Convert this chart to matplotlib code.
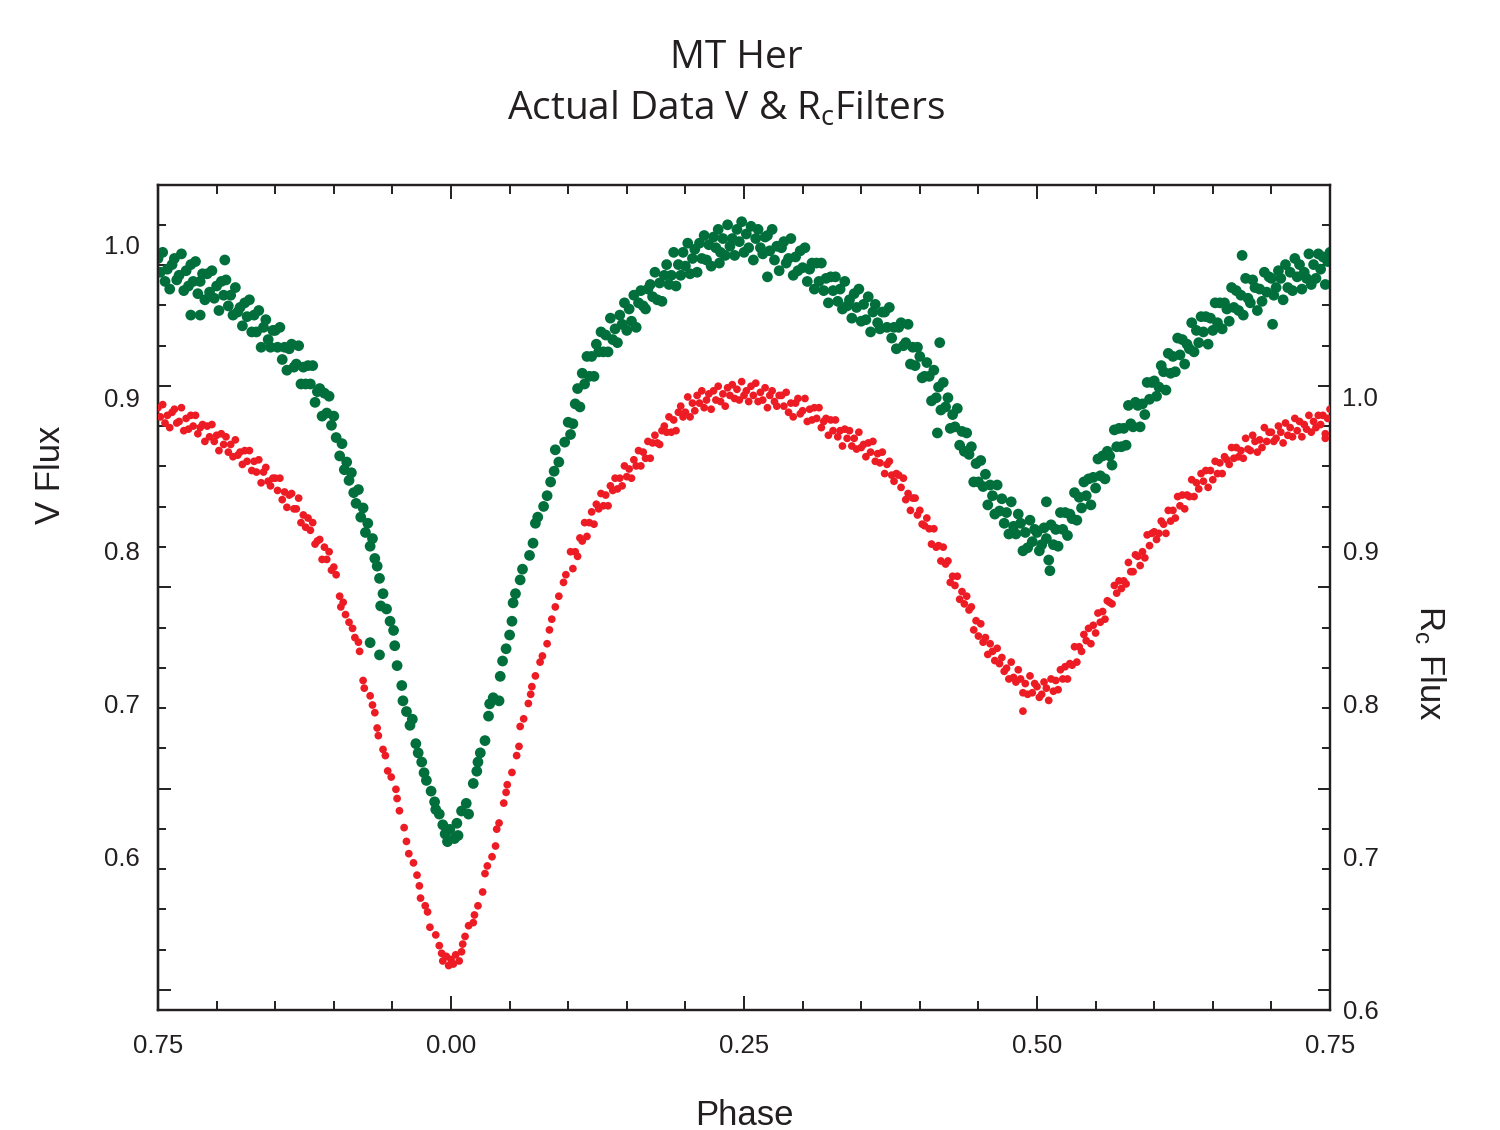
import numpy as np
import matplotlib
matplotlib.use("Agg")
import matplotlib.pyplot as plt

plt.rcParams['font.family'] = ['Liberation Sans', 'DejaVu Sans']

INK = '#231f20'
GREEN = '#006f3c'
RED = '#ed1c24'

# ---- V filter (left axis) ----
v_phase = [
    # out of primary eclipse (phase 0.75 .. 0.90)
    -0.250, -0.248, -0.246, -0.244, -0.242, -0.240, -0.238, -0.236, -0.234, -0.232,
    -0.230, -0.228, -0.226, -0.224, -0.222, -0.220, -0.218, -0.216, -0.214, -0.212,
    -0.210, -0.208, -0.206, -0.204, -0.202, -0.200, -0.198, -0.196, -0.194, -0.192,
    -0.190, -0.188, -0.186, -0.184, -0.182, -0.180, -0.178, -0.176, -0.174, -0.172,
    -0.170, -0.168, -0.166, -0.164, -0.162, -0.160, -0.158, -0.156, -0.154, -0.152,
    -0.150, -0.148, -0.146, -0.144, -0.142, -0.140, -0.138, -0.136, -0.134, -0.132,
    -0.130, -0.128, -0.126, -0.124, -0.122, -0.120, -0.118, -0.116, -0.114, -0.112,
    -0.110, -0.108, -0.106, -0.104, -0.102, -0.100, -0.222, -0.214, -0.193,
    # primary eclipse
    -0.098, -0.095, -0.093, -0.091, -0.089, -0.087, -0.085, -0.083, -0.081, -0.079,
    -0.077, -0.075, -0.073, -0.071, -0.069, -0.067, -0.065, -0.063, -0.061, -0.060,
    -0.069, -0.061, -0.058, -0.055, -0.052, -0.049, -0.048, -0.046, -0.042, -0.041,
    -0.038, -0.035, -0.033, -0.030, -0.028, -0.025, -0.023, -0.021, -0.017, -0.014,
    -0.013, -0.010, -0.007, -0.005, -0.003, -0.001, 0.003, 0.005, 0.006, 0.009,
    0.013, 0.015, 0.019, 0.022, 0.023, 0.025, 0.029, 0.032, 0.033, 0.036,
    0.041, 0.042, 0.044, 0.047, 0.050, 0.052, 0.053, 0.055, 0.059, 0.061,
    0.067, 0.070, 0.072, 0.074, 0.079, 0.082, 0.085, 0.088, 0.089, 0.092,
    0.097, 0.100, 0.102,
    # maximum
    0.104, 0.106, 0.108, 0.110, 0.112, 0.114, 0.116, 0.118, 0.120, 0.122,
    0.124, 0.126, 0.128, 0.130, 0.132, 0.134, 0.136, 0.138, 0.140, 0.142,
    0.144, 0.146, 0.148, 0.150, 0.152, 0.154, 0.156, 0.158, 0.160, 0.162,
    0.164, 0.166, 0.168, 0.170, 0.172, 0.174, 0.176, 0.178, 0.180, 0.182,
    0.184, 0.186, 0.188, 0.190, 0.192, 0.194, 0.196, 0.198, 0.200, 0.202,
    0.204, 0.206, 0.208, 0.210, 0.212, 0.214, 0.216, 0.218, 0.220, 0.222,
    0.224, 0.226, 0.228, 0.230, 0.232, 0.234, 0.236, 0.238, 0.240, 0.242,
    0.244, 0.246, 0.248, 0.250, 0.252, 0.254, 0.256, 0.258, 0.260, 0.262,
    0.264, 0.266, 0.268, 0.270, 0.272, 0.274, 0.276, 0.278, 0.280, 0.282,
    0.284, 0.286, 0.288, 0.290, 0.292, 0.294, 0.296, 0.298, 0.300, 0.302,
    0.304, 0.306, 0.308, 0.310, 0.312, 0.314, 0.316, 0.318, 0.320, 0.322,
    0.324, 0.326, 0.328, 0.330, 0.332, 0.334, 0.336, 0.338, 0.340, 0.342,
    0.344, 0.346, 0.348, 0.350, 0.352, 0.354, 0.356, 0.358, 0.360, 0.362,
    0.364, 0.366, 0.368, 0.370, 0.372, 0.374, 0.376, 0.378, 0.380, 0.382,
    0.384, 0.386, 0.388, 0.390, 0.392, 0.394, 0.396, 0.398, 0.270, 0.229,
    # secondary eclipse and egress
    0.400, 0.402, 0.404, 0.406, 0.408, 0.410, 0.412, 0.414, 0.416, 0.418,
    0.420, 0.422, 0.424, 0.426, 0.428, 0.430, 0.432, 0.434, 0.436, 0.438,
    0.440, 0.442, 0.444, 0.446, 0.448, 0.450, 0.452, 0.454, 0.456, 0.458,
    0.460, 0.462, 0.464, 0.466, 0.468, 0.470, 0.472, 0.474, 0.476, 0.478,
    0.480, 0.482, 0.484, 0.486, 0.488, 0.490, 0.492, 0.494, 0.496, 0.498,
    0.500, 0.502, 0.504, 0.506, 0.508, 0.510, 0.512, 0.514, 0.516, 0.518,
    0.520, 0.522, 0.524, 0.526, 0.528, 0.530, 0.532, 0.534, 0.536, 0.538,
    0.540, 0.542, 0.544, 0.546, 0.548, 0.550, 0.552, 0.554, 0.556, 0.558,
    0.560, 0.562, 0.564, 0.566, 0.568, 0.570, 0.572, 0.574, 0.576, 0.578,
    0.580, 0.582, 0.584, 0.586, 0.588, 0.590, 0.592, 0.594, 0.596, 0.598,
    0.600, 0.602, 0.604, 0.606, 0.608, 0.610, 0.612, 0.614, 0.616, 0.618,
    0.620, 0.622, 0.624, 0.626, 0.628, 0.630, 0.632, 0.634, 0.636, 0.638,
    0.640, 0.642, 0.644, 0.646, 0.648, 0.650, 0.652, 0.654, 0.656, 0.658,
    0.660, 0.662, 0.664, 0.666, 0.668, 0.670, 0.672, 0.674, 0.676, 0.678,
    0.680, 0.682, 0.684, 0.686, 0.688, 0.690, 0.692, 0.694, 0.696, 0.698,
    0.700, 0.702, 0.704, 0.706, 0.708, 0.710, 0.712, 0.714, 0.716, 0.718,
    0.720, 0.722, 0.724, 0.726, 0.728, 0.730, 0.732, 0.734, 0.736, 0.738,
    0.740, 0.742, 0.744, 0.746, 0.748, 0.750,
    0.417, 0.675, 0.701, 0.511, 0.508, 0.415,
]
v_flux = [
    0.991, 0.982, 0.995, 0.976, 0.984, 0.971, 0.987, 0.991, 0.977, 0.980,
    0.994, 0.970, 0.983, 0.973, 0.987, 0.976, 0.989, 0.968, 0.976, 0.981,
    0.964, 0.981, 0.969, 0.983, 0.965, 0.973, 0.957, 0.976, 0.967, 0.977,
    0.960, 0.967, 0.954, 0.972, 0.956, 0.959, 0.947, 0.962, 0.953, 0.964,
    0.943, 0.954, 0.943, 0.957, 0.933, 0.946, 0.951, 0.938, 0.933, 0.944,
    0.944, 0.933, 0.946, 0.925, 0.933, 0.918, 0.932, 0.935, 0.920, 0.922,
    0.934, 0.909, 0.920, 0.909, 0.921, 0.909, 0.921, 0.897, 0.904, 0.906,
    0.888, 0.903, 0.890, 0.901, 0.882, 0.888, 0.954, 0.954, 0.990,

    0.874, 0.862, 0.870, 0.853, 0.858, 0.846, 0.851, 0.838, 0.831, 0.840,
    0.822, 0.828, 0.812, 0.818, 0.803, 0.808, 0.795, 0.790, 0.782, 0.764,
    0.740, 0.732, 0.772, 0.762, 0.754, 0.748, 0.738, 0.725, 0.712, 0.702,
    0.695, 0.686, 0.690, 0.674, 0.668, 0.662, 0.655, 0.650, 0.643, 0.636,
    0.631, 0.628, 0.621, 0.615, 0.610, 0.618, 0.612, 0.622, 0.614, 0.630,
    0.635, 0.628, 0.648, 0.656, 0.662, 0.668, 0.676, 0.692, 0.700, 0.704,
    0.702, 0.718, 0.728, 0.736, 0.745, 0.754, 0.766, 0.772, 0.781, 0.788,
    0.797, 0.805, 0.818, 0.822, 0.829, 0.836, 0.845, 0.852, 0.866, 0.858,
    0.871, 0.884, 0.876,

    0.883, 0.896, 0.906, 0.894, 0.916, 0.909, 0.927, 0.914, 0.927, 0.914,
    0.935, 0.930, 0.943, 0.930, 0.941, 0.930, 0.952, 0.938, 0.945, 0.936,
    0.954, 0.948, 0.962, 0.944, 0.958, 0.950, 0.967, 0.946, 0.962, 0.970,
    0.960, 0.958, 0.971, 0.974, 0.966, 0.982, 0.964, 0.975, 0.963, 0.980,
    0.987, 0.974, 0.980, 0.995, 0.973, 0.987, 0.980, 0.995, 0.986, 1.001,
    0.981, 0.991, 0.997, 0.982, 1.001, 0.991, 1.006, 0.990, 1.000, 0.986,
    1.005, 0.998, 1.010, 0.995, 1.004, 0.993, 1.013, 0.999, 1.004, 0.993,
    1.010, 1.002, 1.015, 0.995, 1.007, 0.998, 1.012, 0.990, 1.004, 1.010,
    0.998, 0.994, 1.005, 1.006, 0.996, 1.010, 0.990, 0.999, 0.983, 0.998,
    1.002, 0.988, 0.991, 1.004, 0.980, 0.992, 0.983, 0.996, 0.985, 0.998,
    0.976, 0.984, 0.988, 0.971, 0.988, 0.976, 0.988, 0.970, 0.978, 0.962,
    0.979, 0.970, 0.979, 0.963, 0.971, 0.958, 0.976, 0.960, 0.964, 0.952,
    0.968, 0.959, 0.971, 0.950, 0.961, 0.951, 0.966, 0.943, 0.956, 0.961,
    0.949, 0.945, 0.956, 0.956, 0.946, 0.959, 0.939, 0.946, 0.932, 0.946,
    0.949, 0.934, 0.936, 0.948, 0.922, 0.933, 0.921, 0.933, 0.979, 0.988,

    0.927, 0.913, 0.914, 0.923, 0.914, 0.898, 0.918, 0.900, 0.907, 0.892,
    0.910, 0.894, 0.900, 0.880, 0.889, 0.881, 0.893, 0.869, 0.878, 0.865,
    0.877, 0.863, 0.868, 0.845, 0.857, 0.845, 0.859, 0.842, 0.850, 0.830,
    0.843, 0.836, 0.824, 0.843, 0.826, 0.834, 0.818, 0.825, 0.811, 0.832,
    0.816, 0.811, 0.824, 0.818, 0.800, 0.812, 0.802, 0.820, 0.806, 0.814,
    0.812, 0.800, 0.804, 0.815, 0.808, 0.794, 0.817, 0.804, 0.814, 0.803,
    0.825, 0.814, 0.825, 0.810, 0.824, 0.821, 0.838, 0.820, 0.835, 0.828,
    0.845, 0.836, 0.847, 0.830, 0.848, 0.841, 0.860, 0.849, 0.862, 0.847,
    0.865, 0.862, 0.856, 0.879, 0.868, 0.880, 0.868, 0.880, 0.869, 0.895,
    0.883, 0.881, 0.897, 0.895, 0.881, 0.896, 0.889, 0.910, 0.899, 0.910,
    0.911, 0.901, 0.907, 0.921, 0.917, 0.905, 0.929, 0.916, 0.927, 0.917,
    0.939, 0.928, 0.938, 0.922, 0.935, 0.932, 0.949, 0.930, 0.944, 0.936,
    0.953, 0.943, 0.953, 0.935, 0.952, 0.944, 0.962, 0.949, 0.962, 0.945,
    0.962, 0.958, 0.950, 0.972, 0.959, 0.970, 0.957, 0.967, 0.954, 0.978,
    0.965, 0.962, 0.977, 0.972, 0.957, 0.971, 0.963, 0.982, 0.969, 0.979,
    0.978, 0.967, 0.972, 0.983, 0.978, 0.964, 0.987, 0.972, 0.982, 0.970,
    0.991, 0.979, 0.987, 0.971, 0.982, 0.978, 0.994, 0.974, 0.987, 0.978,
    0.994, 0.984, 0.992, 0.974, 0.989, 0.995,
    0.936, 0.993, 0.948, 0.787, 0.832, 0.877,
]

# ---- Rc filter (right axis) ----
rc_phase = [
    -0.250, -0.248, -0.246, -0.244, -0.242, -0.240, -0.238, -0.236, -0.234, -0.232,
    -0.230, -0.228, -0.226, -0.224, -0.222, -0.220, -0.218, -0.216, -0.214, -0.212,
    -0.210, -0.208, -0.206, -0.204, -0.202, -0.200, -0.198, -0.196, -0.194, -0.192,
    -0.190, -0.188, -0.186, -0.184, -0.182, -0.180, -0.178, -0.176, -0.174, -0.172,
    -0.170, -0.168, -0.166, -0.164, -0.162, -0.160, -0.158, -0.156, -0.154, -0.152,
    -0.150, -0.148, -0.146, -0.144, -0.142, -0.140, -0.138, -0.136, -0.134, -0.132,
    -0.130, -0.128, -0.126, -0.124, -0.122, -0.120, -0.118, -0.116, -0.114, -0.112,
    -0.110, -0.108, -0.106, -0.104, -0.102, -0.100,

    -0.098, -0.095, -0.094, -0.092, -0.090, -0.087, -0.084, -0.082, -0.079, -0.078,
    -0.075, -0.074, -0.069, -0.067, -0.065, -0.063, -0.062, -0.058, -0.056, -0.054,
    -0.051, -0.047, -0.046, -0.044, -0.040, -0.038, -0.036, -0.032, -0.029, -0.027,
    -0.026, -0.022, -0.020, -0.018, -0.013, -0.010, -0.008, -0.007, -0.004, -0.002,
    0.000, 0.002, 0.004, 0.007, 0.009, 0.010, 0.012, 0.015, 0.019, 0.020,
    0.023, 0.027, 0.029, 0.031, 0.035, 0.038, 0.039, 0.041, 0.045, 0.047,
    0.048, 0.052, 0.056, 0.058, 0.059, 0.062, 0.066, 0.068, 0.069, 0.072,
    0.076, 0.078, 0.082, 0.084, 0.086, 0.089, 0.092, 0.096, 0.098,

    0.102, 0.104, 0.106, 0.108, 0.110, 0.112, 0.114, 0.116, 0.118, 0.120,
    0.122, 0.124, 0.126, 0.128, 0.130, 0.132, 0.134, 0.136, 0.138, 0.140,
    0.142, 0.144, 0.146, 0.148, 0.150, 0.152, 0.154, 0.156, 0.158, 0.160,
    0.162, 0.164, 0.166, 0.168, 0.170, 0.172, 0.174, 0.176, 0.178, 0.180,
    0.182, 0.184, 0.186, 0.188, 0.190, 0.192, 0.194, 0.196, 0.198, 0.200,
    0.202, 0.204, 0.206, 0.208, 0.210, 0.212, 0.214, 0.216, 0.218, 0.220,
    0.222, 0.224, 0.226, 0.228, 0.230, 0.232, 0.234, 0.236, 0.238, 0.240,
    0.242, 0.244, 0.246, 0.248, 0.250, 0.252, 0.254, 0.256, 0.258, 0.260,
    0.262, 0.264, 0.266, 0.268, 0.270, 0.272, 0.274, 0.276, 0.278, 0.280,
    0.282, 0.284, 0.286, 0.288, 0.290, 0.292, 0.294, 0.296, 0.298, 0.300,
    0.302, 0.304, 0.306, 0.308, 0.310, 0.312, 0.314, 0.316, 0.318, 0.320,
    0.322, 0.324, 0.326, 0.328, 0.330, 0.332, 0.334, 0.336, 0.338, 0.340,
    0.342, 0.344, 0.346, 0.348, 0.350, 0.352, 0.354, 0.356, 0.358, 0.360,
    0.362, 0.364, 0.366, 0.368, 0.370, 0.372, 0.374, 0.376, 0.378, 0.380,
    0.382, 0.384, 0.386, 0.388, 0.390, 0.392, 0.394, 0.396, 0.398,

    0.400, 0.402, 0.404, 0.406, 0.408, 0.410, 0.412, 0.414, 0.416, 0.418,
    0.420, 0.422, 0.424, 0.426, 0.428, 0.430, 0.432, 0.434, 0.436, 0.438,
    0.440, 0.442, 0.444, 0.446, 0.448, 0.450, 0.452, 0.454, 0.456, 0.458,
    0.460, 0.462, 0.464, 0.466, 0.468, 0.470, 0.472, 0.474, 0.476, 0.478,
    0.480, 0.482, 0.484, 0.486, 0.488, 0.490, 0.492, 0.494, 0.496, 0.498,
    0.500, 0.502, 0.504, 0.506, 0.508, 0.510, 0.512, 0.514, 0.516, 0.518,
    0.520, 0.522, 0.524, 0.526, 0.528, 0.530, 0.532, 0.534, 0.536, 0.538,
    0.540, 0.542, 0.544, 0.546, 0.548, 0.550, 0.552, 0.554, 0.556, 0.558,
    0.560, 0.562, 0.564, 0.566, 0.568, 0.570, 0.572, 0.574, 0.576, 0.578,
    0.580, 0.582, 0.584, 0.586, 0.588, 0.590, 0.592, 0.594, 0.596, 0.598,
    0.600, 0.602, 0.604, 0.606, 0.608, 0.610, 0.612, 0.614, 0.616, 0.618,
    0.620, 0.622, 0.624, 0.626, 0.628, 0.630, 0.632, 0.634, 0.636, 0.638,
    0.640, 0.642, 0.644, 0.646, 0.648, 0.650, 0.652, 0.654, 0.656, 0.658,
    0.660, 0.662, 0.664, 0.666, 0.668, 0.670, 0.672, 0.674, 0.676, 0.678,
    0.680, 0.682, 0.684, 0.686, 0.688, 0.690, 0.692, 0.694, 0.696, 0.698,
    0.700, 0.702, 0.704, 0.706, 0.708, 0.710, 0.712, 0.714, 0.716, 0.718,
    0.720, 0.722, 0.724, 0.726, 0.728, 0.730, 0.732, 0.734, 0.736, 0.738,
    0.740, 0.742, 0.744, 0.746, 0.748, 0.750,
    0.488, 0.746,
]
rc_flux = [
    0.993, 0.987, 0.995, 0.983, 0.988, 0.980, 0.990, 0.992, 0.983, 0.984,
    0.993, 0.978, 0.986, 0.979, 0.988, 0.981, 0.988, 0.976, 0.980, 0.982,
    0.971, 0.981, 0.974, 0.982, 0.971, 0.975, 0.965, 0.976, 0.969, 0.974,
    0.964, 0.969, 0.961, 0.972, 0.962, 0.964, 0.956, 0.965, 0.958, 0.965,
    0.952, 0.958, 0.951, 0.959, 0.944, 0.951, 0.954, 0.945, 0.942, 0.947,
    0.947, 0.939, 0.947, 0.933, 0.938, 0.928, 0.936, 0.937, 0.927, 0.927,
    0.934, 0.918, 0.923, 0.915, 0.921, 0.913, 0.918, 0.904, 0.906, 0.907,
    0.894, 0.902, 0.894, 0.899, 0.887, 0.889,

    0.884, 0.870, 0.863, 0.866, 0.858, 0.853, 0.849, 0.843, 0.840, 0.834,
    0.815, 0.810, 0.805, 0.799, 0.794, 0.784, 0.779, 0.770, 0.766, 0.756,
    0.752, 0.744, 0.738, 0.730, 0.719, 0.710, 0.702, 0.696, 0.688, 0.681,
    0.673, 0.668, 0.664, 0.654, 0.649, 0.642, 0.637, 0.632, 0.635, 0.629,
    0.633, 0.630, 0.636, 0.632, 0.638, 0.643, 0.648, 0.655, 0.657, 0.662,
    0.668, 0.677, 0.689, 0.694, 0.700, 0.707, 0.718, 0.722, 0.735, 0.742,
    0.747, 0.755, 0.766, 0.772, 0.785, 0.790, 0.800, 0.806, 0.811, 0.818,
    0.827, 0.831, 0.839, 0.848, 0.855, 0.863, 0.870, 0.879, 0.884,

    0.899, 0.888, 0.899, 0.896, 0.908, 0.906, 0.918, 0.909, 0.918, 0.925,
    0.917, 0.930, 0.927, 0.937, 0.929, 0.936, 0.929, 0.942, 0.939, 0.947,
    0.940, 0.947, 0.942, 0.955, 0.948, 0.953, 0.947, 0.959, 0.955, 0.965,
    0.955, 0.964, 0.960, 0.971, 0.960, 0.970, 0.975, 0.970, 0.969, 0.978,
    0.981, 0.977, 0.987, 0.977, 0.985, 0.978, 0.990, 0.994, 0.987, 0.990,
    1.000, 0.987, 0.996, 0.991, 1.001, 0.996, 1.004, 0.993, 0.998, 1.002,
    0.992, 1.004, 0.998, 1.007, 0.997, 1.002, 0.994, 1.006, 1.001, 1.008,
    0.999, 1.005, 0.998, 1.010, 1.001, 1.004, 0.997, 1.007, 1.001, 1.009,
    0.997, 1.003, 0.998, 1.006, 0.993, 1.001, 1.004, 0.997, 0.994, 1.001,
    1.001, 0.994, 1.003, 0.990, 0.996, 0.987, 0.996, 0.999, 0.989, 0.991,
    0.999, 0.984, 0.992, 0.985, 0.993, 0.986, 0.993, 0.980, 0.984, 0.986,
    0.975, 0.985, 0.978, 0.985, 0.974, 0.978, 0.968, 0.979, 0.973, 0.978,
    0.968, 0.973, 0.966, 0.977, 0.967, 0.969, 0.961, 0.970, 0.964, 0.971,
    0.958, 0.963, 0.957, 0.964, 0.950, 0.956, 0.958, 0.949, 0.945, 0.950,
    0.949, 0.941, 0.947, 0.933, 0.937, 0.926, 0.934, 0.934, 0.923,

    0.926, 0.917, 0.916, 0.921, 0.914, 0.904, 0.914, 0.902, 0.903, 0.893,
    0.902, 0.891, 0.893, 0.879, 0.883, 0.877, 0.883, 0.868, 0.873, 0.865,
    0.870, 0.861, 0.863, 0.848, 0.854, 0.844, 0.852, 0.840, 0.843, 0.832,
    0.839, 0.834, 0.828, 0.836, 0.826, 0.830, 0.821, 0.823, 0.816, 0.827,
    0.817, 0.814, 0.822, 0.816, 0.807, 0.813, 0.806, 0.818, 0.807, 0.813,
    0.811, 0.804, 0.806, 0.814, 0.810, 0.802, 0.816, 0.808, 0.815, 0.809,
    0.822, 0.816, 0.824, 0.816, 0.826, 0.825, 0.837, 0.827, 0.837, 0.834,
    0.845, 0.841, 0.849, 0.839, 0.851, 0.846, 0.859, 0.853, 0.860, 0.855,
    0.867, 0.866, 0.865, 0.877, 0.872, 0.880, 0.875, 0.880, 0.878, 0.892,
    0.886, 0.886, 0.897, 0.896, 0.890, 0.899, 0.895, 0.910, 0.903, 0.911,
    0.912, 0.907, 0.911, 0.919, 0.917, 0.911, 0.926, 0.919, 0.926, 0.921,
    0.935, 0.929, 0.936, 0.927, 0.936, 0.935, 0.946, 0.935, 0.944, 0.940,
    0.950, 0.945, 0.952, 0.941, 0.952, 0.946, 0.958, 0.950, 0.957, 0.950,
    0.961, 0.959, 0.956, 0.967, 0.960, 0.967, 0.961, 0.965, 0.960, 0.973,
    0.966, 0.965, 0.975, 0.971, 0.964, 0.972, 0.967, 0.980, 0.971, 0.977,
    0.977, 0.971, 0.973, 0.981, 0.977, 0.970, 0.983, 0.975, 0.980, 0.974,
    0.986, 0.978, 0.984, 0.974, 0.982, 0.979, 0.988, 0.977, 0.984, 0.980,
    0.988, 0.982, 0.988, 0.976, 0.986, 0.992,
    0.795, 0.973,
]

phase_ticks = [-0.25, 0.0, 0.25, 0.5, 0.75]
phase_labels = ['0.75', '0.00', '0.25', '0.50', '0.75']
flux_ticks = [0.6, 0.7, 0.8, 0.9, 1.0]
flux_labels = ['0.6', '0.7', '0.8', '0.9', '1.0']

fig = plt.figure(figsize=(15, 11.3), dpi=100)
ax = fig.add_axes([158 / 1500, 1 - 1010 / 1130, 1172 / 1500, 825 / 1130])
ax.set_xlim(-0.25, 0.75)
ax.set_ylim(0.5, 1.039)

ax.scatter(v_phase, v_flux, s=60, color=GREEN, edgecolors='none', zorder=3)

ax2 = ax.twinx()
ax2.set_ylim(0.6, 1.1383)
ax2.scatter(rc_phase, rc_flux, s=31, color=RED, edgecolors='none', zorder=3)

for a in (ax, ax2):
    for sp in a.spines.values():
        sp.set_color(INK)
        sp.set_linewidth(1.6)

# x ticks
ax.set_xticks(phase_ticks)
ax.set_xticklabels(phase_labels)
ax.set_xticks(np.arange(-0.25, 0.751, 0.05), minor=True)
ax.tick_params(axis='x', which='both', direction='in', top=True, bottom=True,
               width=1.4, color=INK, labelcolor=INK, labelsize=18.5, pad=17)
ax.tick_params(axis='x', which='major', length=10)
ax.tick_params(axis='x', which='minor', length=6.5)

# y tick marks (no labels, spaced independently of the labels like the original)
marks = 0.5132 + 0.0263 * np.arange(20)
ax.set_yticks(marks[::5])
ax.set_yticks(np.delete(marks, np.arange(0, 20, 5)), minor=True)
ax.tick_params(axis='y', which='both', direction='in', left=True, right=True,
               labelleft=False, labelright=False, width=1.4, color=INK)
ax.tick_params(axis='y', which='major', length=9)
ax.tick_params(axis='y', which='minor', length=5.5)

# left labels
sec = ax.secondary_yaxis('left')
sec.set_yticks(flux_ticks)
sec.set_yticklabels(flux_labels)
sec.tick_params(length=0, pad=13, labelsize=18.5, labelcolor=INK)
sec.spines['left'].set_color(INK)
sec.spines['left'].set_linewidth(1.6)

# right labels
ax2.set_yticks(flux_ticks)
ax2.set_yticklabels(flux_labels)
ax2.tick_params(axis='y', length=0, pad=9, labelsize=18.5, labelcolor=INK)

fig.text(736 / 1500, 1 - 68 / 1130, 'MT Her', ha='center', va='baseline',
         fontsize=28, family='Open Sans', color=INK)
fig.text(726 / 1500, 1 - 120 / 1130, 'Actual Data V & R$\\mathregular{_c}$Filters',
         ha='center', va='baseline', fontsize=28, family='Open Sans', color=INK)

fig.text(50 / 1500, 1 - 475 / 1130, 'V Flux', rotation=90, ha='center', va='center',
         fontsize=25, color=INK)
fig.text(1430 / 1500, 1 - 663 / 1130, 'R$\\mathregular{_c}$ Flux', rotation=-90,
         ha='center', va='center', fontsize=25, color=INK)
fig.text(744 / 1500, 1 - 1125 / 1130, 'Phase', ha='center', va='baseline',
         fontsize=25, color=INK)

fig.savefig('out.png', dpi=100)
